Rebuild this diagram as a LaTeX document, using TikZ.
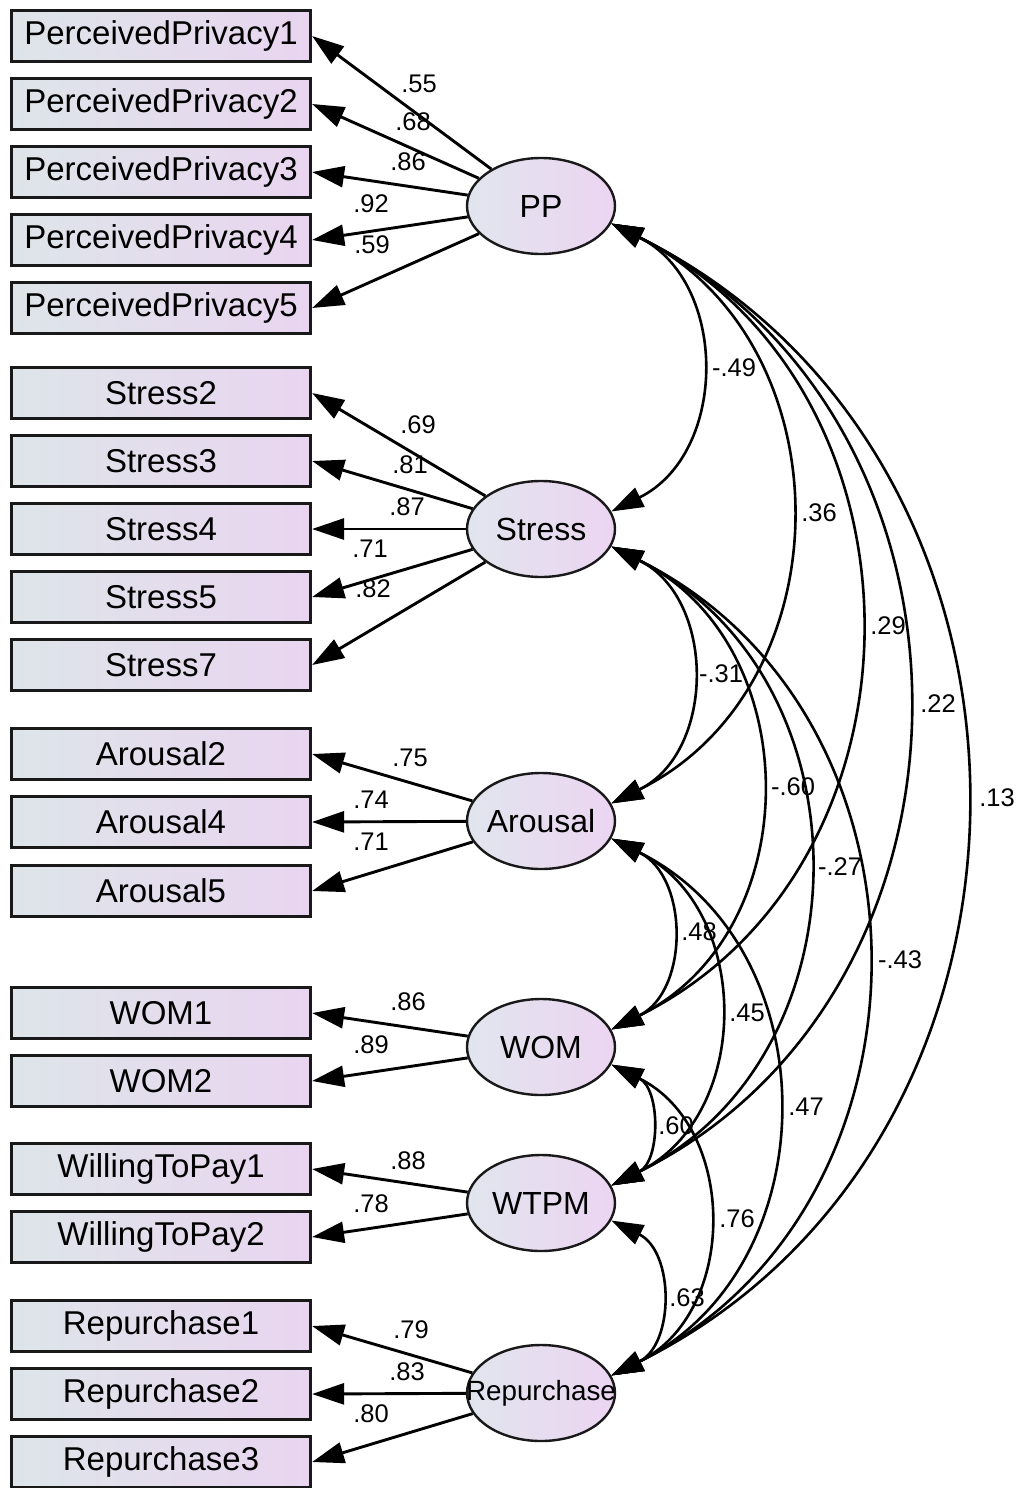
\documentclass[tikz,border=0pt]{standalone}
\usepackage{fontspec}
\setmainfont{Liberation Sans}
\usetikzlibrary{arrows.meta,shapes.geometric,calc}
\definecolor{boxL}{RGB}{221,229,233}
\definecolor{boxR}{RGB}{233,213,240}
\definecolor{ellL}{RGB}{225,229,238}
\definecolor{ellR}{RGB}{236,213,241}
\newcommand\zw[1]{\makebox[0pt]{#1}}
\newcommand\covarc[2]{\draw[cov] let \p1=(#1.-14), \p2=(#2.14), \n1={0.455*(\y1-\y2)} in (\p1) .. controls +(-26.4:\n1) and +(26.4:\n1) .. (\p2);}
\begin{document}
\begin{tikzpicture}[x=1pt,y=1pt,
  >={Triangle[length=32pt,width=21pt]},
  obs/.style={draw=black!90, line width=3.2pt, left color=boxL, right color=boxR,
    minimum width=299pt, minimum height=51pt, inner sep=0pt,
    font=\fontsize{33}{36}\selectfont},
  lat/.style={ellipse, draw=black!90, line width=2.4pt, left color=ellL, right color=ellR,
    minimum width=148pt, minimum height=96pt, inner sep=0pt,
    font=\fontsize{32}{36}\selectfont},
  load/.style={->, line width=2.9pt},
  cov/.style={<->, line width=2.6pt},
  lbl/.style={font=\fontsize{25.5}{28}\selectfont, inner sep=0pt}
]
\fill[white] (0,0) rectangle (1022,-1488);
\useasboundingbox (0,0) rectangle (1022,-1488);

% observed variables
\node[obs] (pp1) at (161,-36) {PerceivedPrivacy1};
\node[obs] (pp2) at (161,-104) {PerceivedPrivacy2};
\node[obs] (pp3) at (161,-172) {PerceivedPrivacy3};
\node[obs] (pp4) at (161,-240) {PerceivedPrivacy4};
\node[obs] (pp5) at (161,-308) {PerceivedPrivacy5};
\node[obs] (s2) at (161,-393) {Stress2};
\node[obs] (s3) at (161,-461) {Stress3};
\node[obs] (s4) at (161,-529) {Stress4};
\node[obs] (s5) at (161,-597) {Stress5};
\node[obs] (s7) at (161,-665) {Stress7};
\node[obs] (a2) at (161,-754) {Arousal2};
\node[obs] (a4) at (161,-822) {Arousal4};
\node[obs] (a5) at (161,-891) {Arousal5};
\node[obs] (w1) at (161,-1013) {WOM1};
\node[obs] (w2) at (161,-1081) {WOM2};
\node[obs] (t1) at (161,-1169) {WillingToPay1};
\node[obs] (t2) at (161,-1237) {WillingToPay2};
\node[obs] (r1) at (161,-1326) {Repurchase1};
\node[obs] (r2) at (161,-1394) {Repurchase2};
\node[obs] (r3) at (161,-1462) {Repurchase3};

% latent variables
\node[lat] (PP) at (541,-206) {\zw{PP}};
\node[lat] (ST) at (541,-529) {\zw{Stress}};
\node[lat] (AR) at (541,-821) {\zw{Arousal}};
\node[lat] (WO) at (541,-1047) {\zw{WOM}};
\node[lat] (WT) at (541,-1203) {\zw{WTPM}};
\node[lat] (RE) at (541,-1393) {\zw{\fontsize{27.8}{32}\selectfont Repurchase}};

% loadings
\foreach \b in {pp1,pp2,pp3,pp4,pp5} \draw[load] (PP) -- (\b.east);
\foreach \b in {s2,s3,s4,s5,s7} \draw[load] (ST) -- (\b.east);
\foreach \b in {a2,a4,a5} \draw[load] (AR) -- (\b.east);
\foreach \b in {w1,w2} \draw[load] (WO) -- (\b.east);
\foreach \b in {t1,t2} \draw[load] (WT) -- (\b.east);
\foreach \b in {r1,r2,r3} \draw[load] (RE) -- (\b.east);

% covariances
\covarc{PP}{ST}
\covarc{PP}{AR}
\covarc{PP}{WO}
\covarc{PP}{WT}
\covarc{PP}{RE}
\covarc{ST}{AR}
\covarc{ST}{WO}
\covarc{ST}{WT}
\covarc{ST}{RE}
\covarc{AR}{WO}
\covarc{AR}{WT}
\covarc{AR}{RE}
\covarc{WO}{WT}
\covarc{WO}{RE}
\covarc{WT}{RE}

% loading labels
\node[lbl] (l1) at (419,-84) {.55};
\node[lbl] (l2) at (413,-122) {.68};
\node[lbl] (l3) at (408,-162) {.86};
\node[lbl] (l4) at (371,-204) {.92};
\node[lbl] (l5) at (372,-245) {.59};
\node[lbl] (l6) at (418,-425) {.69};
\node[lbl] (l7) at (410,-465) {.81};
\node[lbl] (l8) at (407,-507) {.87};
\node[lbl] (l9) at (370,-549) {.71};
\node[lbl] (l10) at (373,-589) {.82};
\node[lbl] (l11) at (410,-758) {.75};
\node[lbl] (l12) at (371,-800) {.74};
\node[lbl] (l13) at (371,-842) {.71};
\node[lbl] (l14) at (408,-1002) {.86};
\node[lbl] (l15) at (371,-1045) {.89};
\node[lbl] (l16) at (408,-1161) {.88};
\node[lbl] (l17) at (371,-1204) {.78};
\node[lbl] (l18) at (411,-1330) {.79};
\node[lbl] (l19) at (407,-1372) {.83};
\node[lbl] (l20) at (371,-1414) {.80};

% covariance labels
\node[lbl] (c1) at (734,-368) {-.49};
\node[lbl] (c2) at (819,-513) {.36};
\node[lbl] (c3) at (888,-626) {.29};
\node[lbl] (c4) at (938,-704) {.22};
\node[lbl] (c5) at (997,-798) {.13};
\node[lbl] (c6) at (721,-674) {-.31};
\node[lbl] (c7) at (793,-787) {-.60};
\node[lbl] (c8) at (840,-867) {-.27};
\node[lbl] (c9) at (900,-960) {-.43};
\node[lbl] (c10) at (699,-932) {.48};
\node[lbl] (c11) at (747,-1013) {.45};
\node[lbl] (c12) at (806,-1107) {.47};
\node[lbl] (c13) at (676,-1126) {.60};
\node[lbl] (c14) at (737,-1219) {.76};
\node[lbl] (c15) at (687,-1298) {.63};
\end{tikzpicture}
\end{document}
